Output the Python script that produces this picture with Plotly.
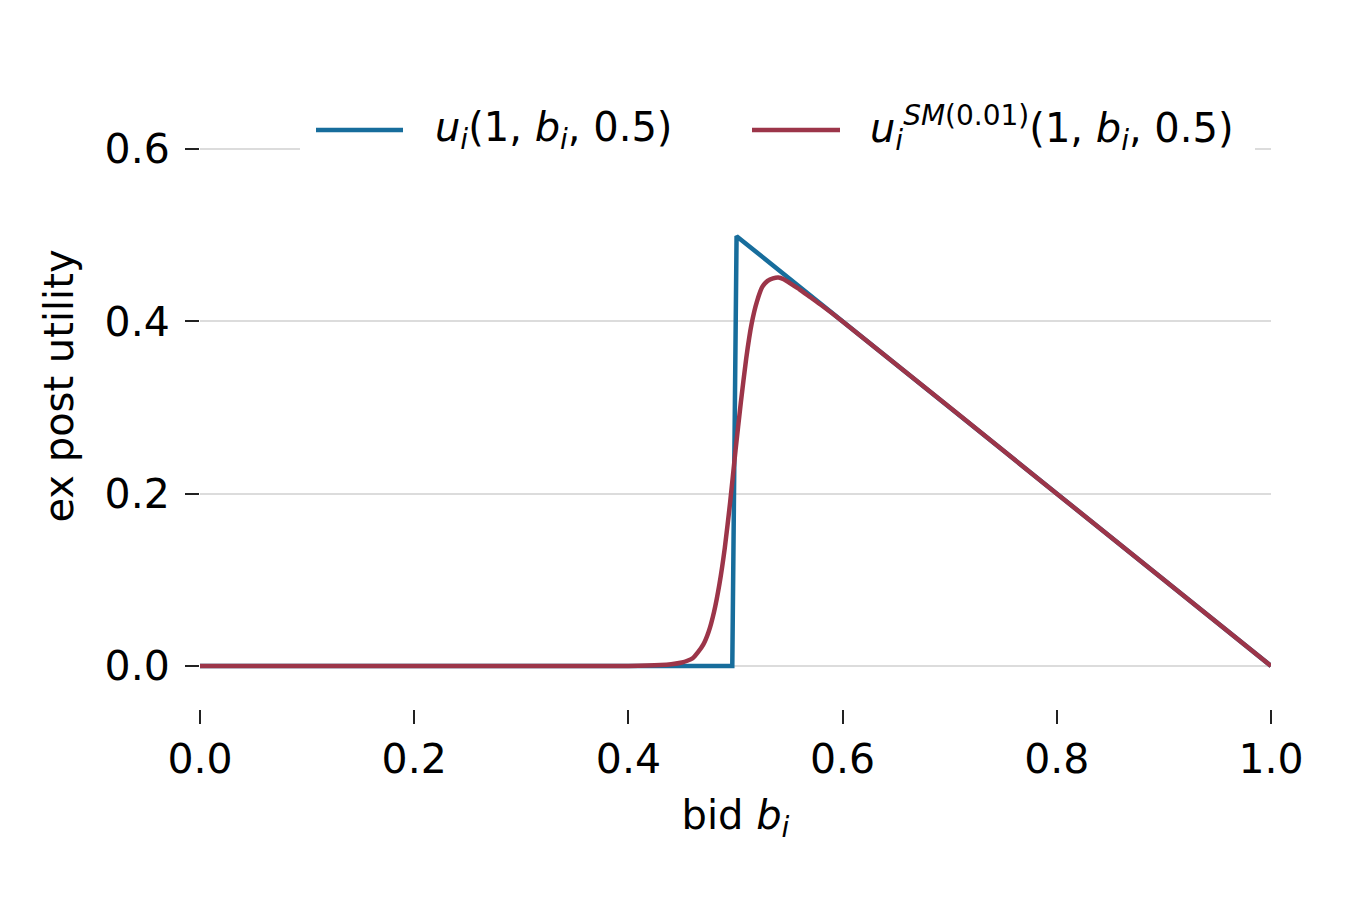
import plotly.graph_objects as go

# bid grid and ex post utility
bid_exact = [0.0, 0.497, 0.501, 1.0]
util_exact = [0.0, 0.0, 0.499, 0.0]

bid_smooth = [0.0, 0.40, 0.43, 0.44, 0.45, 0.455, 0.46, 0.465, 0.47, 0.475, 0.48,
              0.485, 0.49, 0.495, 0.50, 0.505, 0.51, 0.515, 0.52, 0.525, 0.53,
              0.535, 0.54, 0.545, 0.55, 0.56, 0.57, 0.58, 0.60, 0.80, 1.0]
util_smooth = [0.0, 0.0, 0.001, 0.002, 0.004, 0.006, 0.009, 0.016, 0.025, 0.04, 0.063,
               0.095, 0.137, 0.19, 0.25, 0.306, 0.357, 0.397, 0.423, 0.44, 0.447,
               0.45, 0.451, 0.449, 0.445, 0.437, 0.428, 0.419, 0.40, 0.20, 0.0]

x_ticks = [0.0, 0.2, 0.4, 0.6, 0.8, 1.0]
y_ticks = [0.0, 0.2, 0.4, 0.6]

labels = [
    "<i>u</i><sub><i>i</i></sub>(1, <i>b</i><sub><i>i</i></sub>, 0.5)",
    "<i>u</i><sub><i>i</i></sub><sup><i>SM</i>(0.01)</sup>(1, <i>b</i><sub><i>i</i></sub>, 0.5)",
]

BLUE = "#176d9c"
RED = "#9c3549"
FONT = "DejaVu Sans"

# plot area in pixels (page has an 8px body margin)
L, R, T, B = 192, 1263, 55, 701


def px_x(p):
    return (p - 200) / (R - L)


def px_y(p):
    return (709 - p) / (B - T)


fig = go.Figure()
fig.add_scatter(
    x=bid_exact, y=util_exact, mode="lines", name=labels[0],
    line=dict(color=BLUE, width=4.5), showlegend=False,
)
fig.add_scatter(
    x=bid_smooth, y=util_smooth, mode="lines", name=labels[1],
    line=dict(color=RED, width=4.5, shape="spline", smoothing=0.6), showlegend=False,
)

# legend drawn by hand: white box over the grid, long line samples, labels
shapes = [
    dict(type="rect", xref="paper", yref="paper", layer="above",
         x0=px_x(300), x1=px_x(1255), y0=px_y(172), y1=px_y(92),
         fillcolor="white", line=dict(width=0)),
    dict(type="line", xref="paper", yref="paper", layer="above",
         x0=px_x(316), x1=px_x(403), y0=px_y(130), y1=px_y(130),
         line=dict(color=BLUE, width=4.5)),
    dict(type="line", xref="paper", yref="paper", layer="above",
         x0=px_x(752), x1=px_x(840), y0=px_y(130), y1=px_y(130),
         line=dict(color=RED, width=4.5)),
]
annotations = [
    dict(xref="paper", yref="paper", x=px_x(433), y=px_y(130), text=labels[0],
         xanchor="left", yanchor="middle", showarrow=False, font=dict(size=40)),
    dict(xref="paper", yref="paper", x=px_x(868), y=px_y(128), text=labels[1],
         xanchor="left", yanchor="middle", showarrow=False, font=dict(size=40)),
]

fig.update_layout(
    width=1350, height=900,
    paper_bgcolor="white", plot_bgcolor="white",
    font=dict(family=FONT, size=41, color="black"),
    margin=dict(l=L, r=1350 - R, t=T, b=900 - B),
    showlegend=False,
    shapes=shapes,
    annotations=annotations,
    xaxis=dict(
        range=[0, 1], tickvals=x_ticks, tickformat=".1f",
        showgrid=False, zeroline=False, showline=False,
        ticks="outside", ticklen=14, tickwidth=2, tickcolor="#222",
        title=dict(text="bid <i>b</i><sub><i>i</i></sub>", standoff=18, font=dict(size=40)),
    ),
    yaxis=dict(
        range=[-0.05, 0.7], tickvals=y_ticks, tickformat=".1f",
        showgrid=True, gridcolor="#dcdcdc", gridwidth=2,
        zeroline=False, showline=False,
        ticks="outside", ticklen=14, tickwidth=2, tickcolor="#222",
        ticklabelstandoff=7,
        title=dict(text="ex post utility", standoff=18, font=dict(size=40)),
    ),
)

fig.write_html("out.html")
